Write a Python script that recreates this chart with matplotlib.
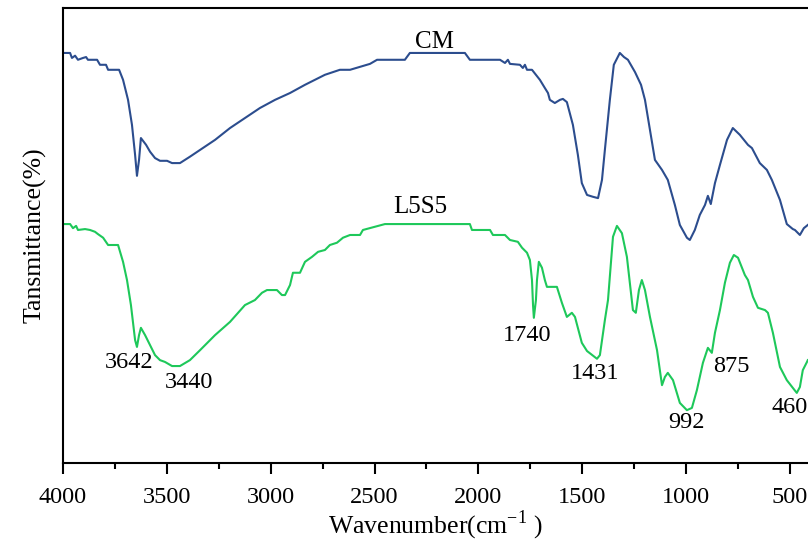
"""FTIR spectra of CM and L5S5."""

import matplotlib
matplotlib.use("Agg")
import matplotlib.pyplot as plt
from matplotlib.ticker import MultipleLocator

plt.rcParams["font.family"] = ["Liberation Serif", "DejaVu Serif"]
plt.rcParams["mathtext.fontset"] = "custom"
plt.rcParams["mathtext.rm"] = "Liberation Serif"

# CM spectrum (wavenumber, transmittance in arbitrary units)
cm_wn = [4000, 3966, 3957, 3942, 3928, 3904, 3889, 3880, 3836, 3822, 3793, 3783,
         3730, 3711, 3687, 3668, 3653, 3644, 3634, 3625, 3615, 3600, 3581, 3557,
         3533, 3499, 3475, 3437, 3413, 3389, 3340, 3268, 3196, 3124, 3052, 2979,
         2907, 2835, 2787, 2739, 2667, 2618, 2522, 2488, 2354, 2330, 2065, 2041,
         1896, 1872, 1858, 1848, 1800, 1786, 1776, 1766, 1742, 1704, 1680, 1665,
         1656, 1632, 1607, 1593, 1574, 1545, 1521, 1502, 1477, 1449, 1424, 1405,
         1391, 1367, 1348, 1319, 1299, 1280, 1246, 1217, 1198, 1174, 1150, 1116,
         1088, 1054, 1030, 996, 982, 958, 934, 909, 895, 881, 861, 837, 803, 775,
         741, 702, 683, 645, 611, 587, 548, 515, 486, 476, 452, 433, 414]
cm_t = [90.1, 90.1, 89.0, 89.5, 88.6, 89.0, 89.2, 88.6, 88.6, 87.5, 87.5, 86.4,
        86.4, 84.2, 79.8, 74.3, 67.7, 63.1, 66.6, 71.4, 70.8, 69.9, 68.4, 67.0,
        66.4, 66.4, 65.9, 65.9, 66.6, 67.3, 68.8, 71.0, 73.6, 75.8, 78.0, 79.8,
        81.3, 83.1, 84.2, 85.3, 86.4, 86.4, 87.7, 88.6, 88.6, 90.1, 90.1, 88.6,
        88.6, 87.9, 88.6, 87.7, 87.5, 86.8, 87.5, 86.4, 86.4, 84.2, 82.4, 81.3,
        79.8, 79.1, 79.8, 80.0, 79.3, 74.3, 67.7, 61.5, 58.9, 58.5, 58.2, 62.2,
        68.8, 79.8, 87.5, 90.1, 89.2, 88.6, 85.9, 83.1, 79.8, 73.2, 66.6, 64.4,
        62.2, 56.7, 52.3, 49.5, 49.0, 51.2, 54.5, 56.7, 58.7, 56.9, 61.5, 65.5,
        71.0, 73.6, 72.1, 69.9, 69.2, 65.9, 64.4, 62.2, 57.8, 52.5, 51.4, 51.2,
        50.1, 51.6, 52.3]

# L5S5 spectrum
l5_wn = [4000, 3966, 3952, 3937, 3928, 3894, 3870, 3846, 3832, 3807, 3783, 3735,
         3711, 3692, 3673, 3653, 3644, 3634, 3625, 3605, 3581, 3557, 3533, 3509,
         3475, 3437, 3389, 3340, 3268, 3196, 3124, 3076, 3042, 3018, 2970, 2946,
         2931, 2907, 2893, 2859, 2835, 2801, 2772, 2739, 2715, 2681, 2652, 2618,
         2570, 2556, 2450, 2041, 2031, 1944, 1930, 1872, 1848, 1810, 1790, 1766,
         1752, 1742, 1737, 1733, 1723, 1718, 1709, 1694, 1680, 1670, 1622, 1598,
         1574, 1550, 1535, 1502, 1477, 1429, 1415, 1391, 1376, 1352, 1333, 1309,
         1285, 1256, 1242, 1227, 1213, 1198, 1174, 1140, 1116, 1102, 1088, 1063,
         1030, 996, 972, 948, 919, 895, 876, 861, 837, 813, 789, 770, 750, 717,
         702, 678, 654, 620, 606, 582, 548, 515, 486, 467, 452, 438, 418, 414]
l5_t = [52.5, 52.5, 51.6, 52.1, 51.2, 51.4, 51.2, 50.8, 50.3, 49.5, 47.9, 47.9,
        44.2, 40.2, 34.7, 27.0, 25.5, 28.1, 29.7, 28.1, 25.9, 23.7, 22.6, 22.2,
        21.3, 21.3, 22.6, 24.8, 28.1, 31.0, 34.7, 35.8, 37.4, 38.0, 38.0, 36.9,
        36.9, 39.1, 41.8, 41.8, 44.2, 45.3, 46.4, 46.8, 47.9, 48.4, 49.5, 50.1,
        50.1, 51.2, 52.5, 52.5, 51.2, 51.2, 50.1, 50.1, 49.0, 48.6, 47.3, 46.2,
        44.6, 40.2, 34.7, 31.9, 35.8, 40.2, 44.2, 42.9, 40.2, 38.7, 38.7, 35.2,
        32.1, 33.0, 32.1, 26.4, 24.6, 22.9, 23.7, 31.4, 35.8, 49.7, 52.1, 50.5,
        45.3, 33.6, 33.0, 38.0, 40.2, 38.0, 32.1, 24.8, 17.1, 18.9, 19.8, 18.2,
        13.2, 11.6, 12.1, 16.0, 22.0, 25.3, 24.2, 28.6, 33.6, 39.6, 44.0, 45.7,
        45.1, 41.3, 40.2, 36.5, 34.1, 33.6, 33.0, 28.6, 21.1, 18.2, 16.5, 15.4,
        16.7, 20.4, 22.2, 22.6]

peak_labels = ["3642", "3440", "1740", "1431", "992", "875", "460"]
peak_x = [3682, 3393, 1766, 1439, 996, 784, 500]
peak_y = [22.0, 17.6, 28.1, 19.6, 9.0, 21.1, 12.1]

fig = plt.figure(figsize=(8.08, 5.45), dpi=100)
ax = fig.add_axes([0.078, 0.1505, 0.922, 0.835])

ax.plot(cm_wn, cm_t, color="#2c4d8e", linewidth=1.5, solid_joinstyle="round")
ax.plot(l5_wn, l5_t, color="#1ec85a", linewidth=1.5, solid_joinstyle="round")

ax.text(2209, 92.5, "CM", fontsize=18, ha="center", va="center")
ax.text(2281, 56.3, "L5S5", fontsize=18, ha="center", va="center")
for lab, x, y in zip(peak_labels, peak_x, peak_y):
    ax.text(x, y, lab, fontsize=17.5, ha="center", va="center")

ax.set_xlim(4000, 413)
ax.set_ylim(0, 100)
ax.xaxis.set_major_locator(MultipleLocator(500))
ax.xaxis.set_minor_locator(MultipleLocator(250))
ax.tick_params(axis="x", which="major", length=8, width=1.5, labelsize=17.5, pad=9)
ax.tick_params(axis="x", which="minor", length=4, width=1.5)
ax.set_yticks([])
ax.spines["right"].set_visible(False)
for s in ("left", "top", "bottom"):
    ax.spines[s].set_linewidth(1.5)

ax.set_xlabel("Wavenumber(cm$^{\\mathregular{-1}}$ )", fontsize=18.5, labelpad=1)
ax.set_ylabel("Tansmittance(%)", fontsize=18.5, labelpad=12)

fig.savefig("out.png", dpi=100)
